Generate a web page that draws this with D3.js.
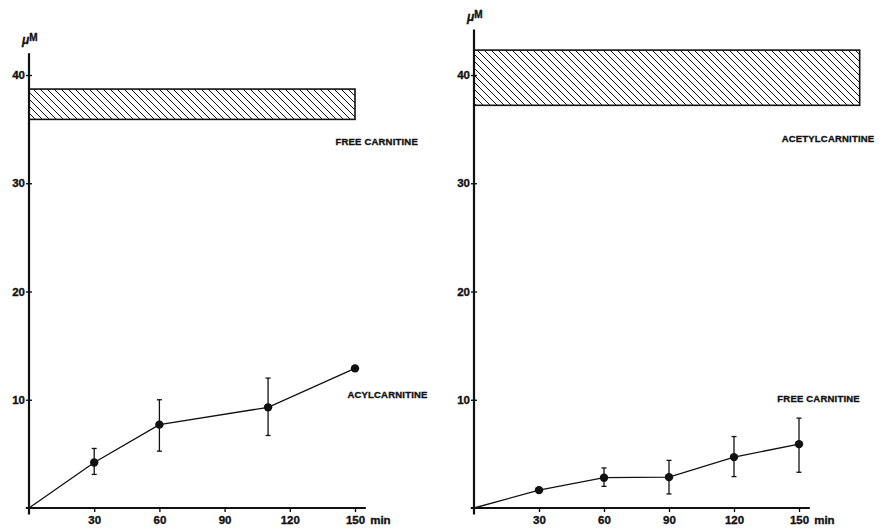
<!DOCTYPE html>
<html>
<head>
<meta charset="utf-8">
<script src="https://cdn.jsdelivr.net/npm/d3@7"></script>
<style>
  body { margin: 0; background: #fff; }
  svg { display: block; }
  text { stroke: #111; stroke-width: 0.35px; }
</style>
</head>
<body>
<div id="chart"></div>
<script>
// ---- data ----
var xTicks = [30, 60, 90, 120, 150];
var yTicks = [10, 20, 30, 40];

// left panel: acylcarnitine rising, free carnitine band
var leftTimes = [0, 30, 60, 110, 150];
var leftAcyl = [0, 4.2, 7.7, 9.3, 12.9];
var leftAcylHi = [null, 5.5, 10.0, 12.0, null];
var leftAcylLo = [null, 3.1, 5.25, 6.7, null];
var leftFreeBand = [35.9, 38.7];
var leftBandEnd = 150;

// right panel: free carnitine rising, acetylcarnitine band
var rightTimes = [0, 30, 60, 90, 120, 150];
var rightFree = [0, 1.65, 2.8, 2.85, 4.7, 5.9];
var rightFreeHi = [null, null, 3.7, 4.4, 6.6, 8.3];
var rightFreeLo = [null, null, 2.0, 1.3, 2.9, 3.3];
var rightAcetylBand = [37.2, 42.3];
var rightBandEnd = 178;

var width = 895, height = 529;

var svg = d3.select("#chart").append("svg")
    .attr("width", width)
    .attr("height", height)
    .attr("font-family", "'Liberation Sans', Arial, sans-serif")
    .attr("font-weight", "bold");

var defs = svg.append("defs");
defs.append("pattern")
    .attr("id", "hatch")
    .attr("patternUnits", "userSpaceOnUse")
    .attr("width", 7)
    .attr("height", 7)
  .append("path")
    .attr("d", "M0,0L7,7M-1,6L1,8M6,-1L8,1")
    .attr("stroke", "#111")
    .attr("stroke-width", 1);

function panel(opts) {
  var x = d3.scaleLinear().domain([0, 150]).range(opts.xRange);
  var y = d3.scaleLinear().domain([0, 40]).range([508, 75]);
  var g = svg.append("g");

  // band (hatched)
  g.append("rect")
      .attr("x", x(0))
      .attr("y", y(opts.band[1]))
      .attr("width", x(opts.bandEnd) - x(0))
      .attr("height", y(opts.band[0]) - y(opts.band[1]))
      .attr("fill", "url(#hatch)")
      .attr("stroke", "#111")
      .attr("stroke-width", 1.6);

  // y axis
  var yAxis = g.append("g")
      .attr("transform", "translate(" + x(0) + ",0)")
      .call(d3.axisLeft(y).tickValues(yTicks).tickSize(3).tickPadding(1));
  yAxis.select(".domain").remove();
  yAxis.selectAll(".tick line").attr("x1", -3).attr("x2", 3).attr("stroke-width", 1.3);
  yAxis.selectAll(".tick text")
      .attr("font-size", 11.5)
      .attr("font-family", "'Liberation Sans', Arial, sans-serif")
      .attr("font-weight", "bold")
      .attr("fill", "#111");

  g.append("line")
      .attr("x1", x(0)).attr("x2", x(0))
      .attr("y1", y(opts.yTop)).attr("y2", y(-0.6))
      .attr("stroke", "#111").attr("stroke-width", 2.2);

  // x axis
  var xAxis = g.append("g")
      .attr("transform", "translate(0," + y(0) + ")")
      .call(d3.axisBottom(x).tickValues(xTicks).tickSize(4).tickPadding(4));
  xAxis.select(".domain").remove();
  xAxis.selectAll(".tick line").attr("y1", -1).attr("stroke-width", 1.3);
  xAxis.selectAll(".tick text")
      .attr("font-size", 11.5)
      .attr("font-family", "'Liberation Sans', Arial, sans-serif")
      .attr("font-weight", "bold")
      .attr("fill", "#111");

  g.append("line")
      .attr("x1", x(-1.5)).attr("x2", x(155))
      .attr("y1", y(0)).attr("y2", y(0))
      .attr("stroke", "#111").attr("stroke-width", 2.2);

  g.append("text")
      .attr("x", x(157))
      .attr("y", y(0) + 16)
      .attr("font-size", 11.5)
      .attr("fill", "#111")
      .text("min");

  // unit label
  var u = g.append("text")
      .attr("x", x(0) - 7)
      .attr("y", y(opts.yTop) - 9)
      .attr("font-size", 12)
      .attr("fill", "#111");
  u.append("tspan").attr("font-style", "italic").text("μ");
  u.append("tspan").attr("font-size", 10).attr("dy", -3).text("M");

  // series
  var pts = opts.times.map(function(t, i) {
    return { t: t, v: opts.values[i], hi: opts.hi[i], lo: opts.lo[i] };
  });

  g.append("path")
      .datum(pts)
      .attr("fill", "none")
      .attr("stroke", "#111")
      .attr("stroke-width", 1.3)
      .attr("d", d3.line().x(function(d) { return x(d.t); }).y(function(d) { return y(d.v); }));

  var eb = g.selectAll(".err")
      .data(pts.filter(function(d) { return d.hi != null; }))
      .enter().append("g")
      .attr("class", "err")
      .attr("stroke", "#111")
      .attr("stroke-width", 1.3);
  eb.append("line")
      .attr("x1", function(d) { return x(d.t); })
      .attr("x2", function(d) { return x(d.t); })
      .attr("y1", function(d) { return y(d.hi); })
      .attr("y2", function(d) { return y(d.lo); });
  eb.append("line")
      .attr("x1", function(d) { return x(d.t) - 2.5; })
      .attr("x2", function(d) { return x(d.t) + 2.5; })
      .attr("y1", function(d) { return y(d.hi); })
      .attr("y2", function(d) { return y(d.hi); });
  eb.append("line")
      .attr("x1", function(d) { return x(d.t) - 2.5; })
      .attr("x2", function(d) { return x(d.t) + 2.5; })
      .attr("y1", function(d) { return y(d.lo); })
      .attr("y2", function(d) { return y(d.lo); });

  g.selectAll(".dot")
      .data(pts.filter(function(d) { return d.t > 0; }))
      .enter().append("circle")
      .attr("class", "dot")
      .attr("cx", function(d) { return x(d.t); })
      .attr("cy", function(d) { return y(d.v); })
      .attr("r", 4.2)
      .attr("fill", "#111");

  // labels
  opts.labels.forEach(function(l) {
    g.append("text")
        .attr("x", x(l.t))
        .attr("y", y(l.v))
        .attr("font-size", 9.5)
        .attr("letter-spacing", 0.2)
        .attr("fill", "#111")
        .text(l.text);
  });
}

panel({
  xRange: [29, 355],
  yTop: 42,
  band: leftFreeBand,
  bandEnd: leftBandEnd,
  times: leftTimes,
  values: leftAcyl,
  hi: leftAcylHi,
  lo: leftAcylLo,
  labels: [
    { text: "FREE CARNITINE", t: 141, v: 33.5 },
    { text: "ACYLCARNITINE", t: 146.5, v: 10.2 }
  ]
});

panel({
  xRange: [474, 799],
  yTop: 44.2,
  band: rightAcetylBand,
  bandEnd: rightBandEnd,
  times: rightTimes,
  values: rightFree,
  hi: rightFreeHi,
  lo: rightFreeLo,
  labels: [
    { text: "ACETYLCARNITINE", t: 142, v: 33.8 },
    { text: "FREE CARNITINE", t: 140, v: 9.8 }
  ]
});
</script>
</body>
</html>
